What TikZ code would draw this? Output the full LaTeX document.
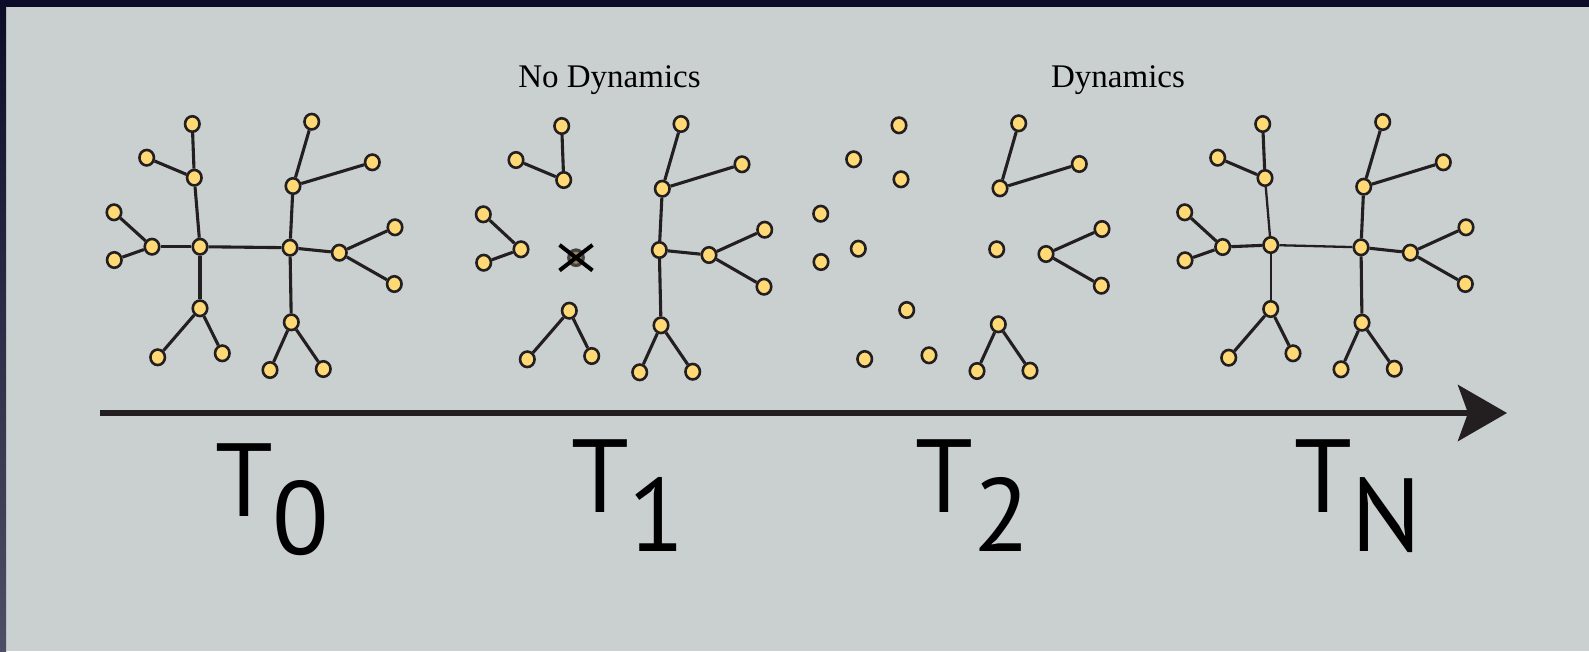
\documentclass[tikz,border=0pt]{standalone}
\usepackage{fontspec}
\usepackage{tikz}
\usetikzlibrary{arrows.meta,shapes.geometric,shapes.misc}
\newfontfamily\stepfont{PT Sans}
\newfontfamily\capfont{Liberation Serif}
\definecolor{PanelGray}{RGB}{202,208,208}
\definecolor{FrameNavy}{RGB}{12,12,40}
\definecolor{FrameSlate}{RGB}{78,78,102}
\definecolor{NodeYellow}{RGB}{255,217,118}
\definecolor{Ink}{RGB}{35,31,32}
\tikzset{
  dot/.style={ellipse,draw=Ink,fill=NodeYellow,line width=2.6pt,
    minimum width=14.5pt,minimum height=15.5pt,inner sep=0pt},
  deaddot/.style={dot,fill=NodeYellow!55!Ink,draw=Ink!85,line width=3.2pt},
  link/.style={draw=Ink,line width=3.1pt},
  newlink/.style={draw=Ink,line width=2.3pt},
  crossmark/.style={cross out,draw=black,line width=4pt,
    minimum width=29pt,minimum height=21.5pt,inner sep=0pt},
  caption/.style={font=\capfont\fontsize{33}{36}\selectfont,anchor=base,inner sep=0pt},
  steplabel/.style={font=\stepfont\fontsize{104}{110}\selectfont,anchor=base west,inner sep=0pt},
  timeline/.style={-{Stealth[length=49pt,width=56pt,inset=10pt]},line width=6pt,draw=Ink}
}

\begin{document}
\begin{tikzpicture}[x=1pt,y=-1pt]
  \useasboundingbox (0,0) rectangle (1589,651);
  \fill[PanelGray] (0,0) rectangle (1589,651);
  \fill[FrameNavy] (0,0) rectangle (1589,7);
  \shade[top color=FrameNavy,bottom color=FrameSlate] (0,0) rectangle (6,651);

  % T0: the whole network
  \foreach \n/\x/\y in {ula/192.3/124, ulb/146.7/157.7, ul/194.3/177.7, lma/114/212.3,
      lmb/114.3/260, lm/152/246.7, lc/200/246.7, bl/200/308.3, bla/157.7/357.3,
      blb/222.3/353.3, rc/290/247.7, ur/293/186, ura/311.7/121.7, urb/372.3/162.3,
      rm/339.3/252.7, rma/395/227.3, rmb/394.3/284, br/291.3/322.3, bra/270/370, brb/323.3/369}
    \node[dot] (t0-\n) at (\x,\y) {};
  \foreach \u/\v in {lc/ul, ul/ula, ul/ulb, lc/lm, lm/lma, lm/lmb, lc/bl, bl/bla, bl/blb,
      lc/rc, rc/ur, ur/ura, ur/urb, rc/rm, rm/rma, rm/rmb, rc/br, br/bra, br/brb}
    \draw[link] (t0-\u) -- (t0-\v);

  % T1: one hub removed
  \foreach \n/\x/\y in {ula/561.7/126, ulb/516/160, ul/563.7/180, lma/483.3/214.3,
      lmb/483.7/262.7, lm/521/249.3, bl/569.3/310.7, bla/527.3/359.3, blb/591.7/356,
      rc/659.3/250, ur/662.3/188.7, ura/681/124, urb/742/164.3, rm/709/255,
      rma/764.7/229.7, rmb/764/286.7, br/661/325.3, bra/639.7/372.3, brb/692.7/371.7}
    \node[dot] (t1-\n) at (\x,\y) {};
  \node[deaddot] (t1-lc) at (576,257.7) {};
  \node[crossmark] (t1-x) at (t1-lc) {};
  \foreach \u/\v in {ul/ula, ul/ulb, lm/lma, lm/lmb, bl/bla, bl/blb, rc/ur, ur/ura, ur/urb,
      rc/rm, rm/rma, rm/rmb, rc/br, br/bra, br/brb}
    \draw[link] (t1-\u) -- (t1-\v);

  % T2
  \foreach \n/\x/\y in {ula/899/125.3, ulb/853.7/159.3, ul/901/179.3, lma/820.7/213.7,
      lmb/821/262, lm/858.3/248.7, bl/906.7/310, bla/864.7/359, blb/929/355.3,
      ur/1000/188.3, ura/1018.7/123.3, urb/1079.3/164, rc/996.7/249.3, rm/1046/254,
      rma/1102/229, rmb/1101.3/285.7, br/998.3/324.3, bra/977/371, brb/1030/370.7}
    \node[dot] (t2-\n) at (\x,\y) {};
  \foreach \u/\v in {ur/ura, ur/urb, rm/rma, rm/rmb, br/bra, br/brb}
    \draw[link] (t2-\u) -- (t2-\v);

  % TN: network rebuilt
  \foreach \n/\x/\y in {ula/1262.7/124, ulb/1217.7/157.7, ul/1265/178, lma/1184.7/212.3,
      lmb/1185/260.3, lm/1222.7/247, lc/1270.7/245, bl/1270.7/309, bla/1228.7/357.7,
      blb/1293/353.3, rc/1361/247.3, ur/1363.7/186.7, ura/1382.7/122, urb/1443.3/162.3,
      rm/1410.3/252.7, rma/1466/227.3, rmb/1465.3/284, br/1362/322.7, bra/1341/369.3,
      brb/1394.3/368.7}
    \node[dot] (tn-\n) at (\x,\y) {};
  \foreach \u/\v in {ul/ula, ul/ulb, lc/lm, lm/lma, lm/lmb, bl/bla, bl/blb, rc/ur, ur/ura,
      ur/urb, rc/rm, rm/rma, rm/rmb, rc/br, br/bra, br/brb}
    \draw[link] (tn-\u) -- (tn-\v);
  \foreach \v in {ul, bl, rc}
    \draw[newlink] (tn-lc) -- (tn-\v);

  % time axis
  \coordinate (tstart) at (100,413);
  \coordinate (tend) at (1507,413);
  \draw[timeline] (tstart) -- (tend);

  \node[steplabel] (lbl0) at (215,516) {T\raisebox{-38pt}{0}};
  \node[steplabel] (lbl1) at (571,512) {T\raisebox{-39pt}{1}};
  \node[steplabel] (lbl2) at (915.5,512) {T\raisebox{-39pt}{2}};
  \node[steplabel] (lbln) at (1294,512) {T\raisebox{-39pt}{N}};

  \node[caption] (nodyn) at (609.5,87) {No Dynamics};
  \node[caption] (dyn) at (1118,87) {Dynamics};
\end{tikzpicture}
\end{document}
